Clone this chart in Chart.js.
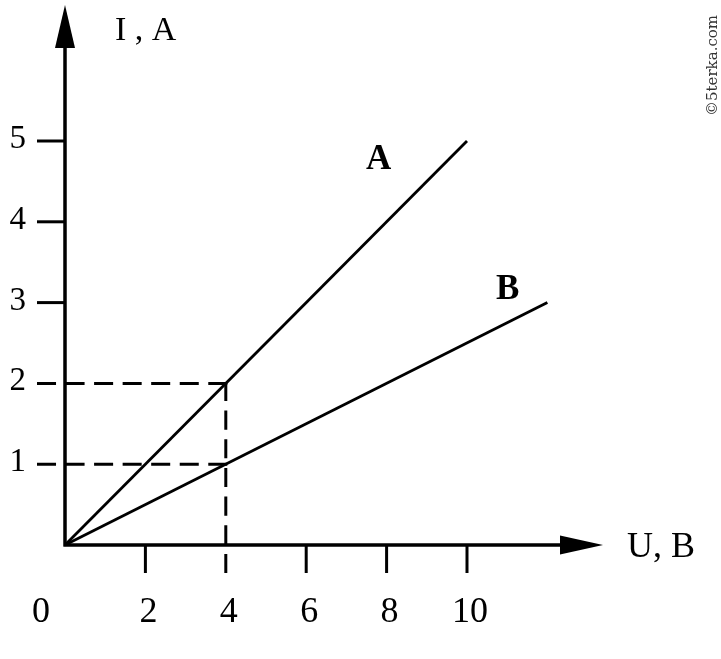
<!DOCTYPE html>
<html>
<head>
<meta charset="utf-8">
<script src="https://cdn.jsdelivr.net/npm/chart.js@4/dist/chart.umd.min.js"></script>
<style>
  html, body { margin: 0; padding: 0; background: #fff; }
  canvas { display: block; }
</style>
</head>
<body>
<canvas id="chart" width="721" height="659"></canvas>
<script>
// Line data: U (volts) vs I (amperes)
const voltageA = [0, 10];
const currentA = [0, 5];
const voltageB = [0, 12];
const currentB = [0, 3];

// Axis ticks
const xTicks = [2, 4, 6, 8, 10];
const yTicks = [1, 2, 3, 4, 5];

// Dashed guide points
const guideU = [4, 4];
const guideI = [2, 1];

// Layout (pixels)
const ORIGIN_X = 65, ORIGIN_Y = 545;
const PX_PER_U = 40.2, PX_PER_I = 80.8;
const W = 721, H = 659;
const TICK_LEN = 28;
const DASH = 18, GAP = 9;
const SERIF = '"Liberation Serif", "Times New Roman", serif';

const toPoints = (xs, ys) => xs.map((x, i) => ({ x, y: ys[i] }));

// dashed segment that starts and ends on a dash
function dashedLine(ctx, x1, y1, x2, y2) {
  const len = Math.hypot(x2 - x1, y2 - y1);
  const n = Math.max(1, Math.round((len + GAP) / (DASH + GAP)));
  const s = len / (n * DASH + (n - 1) * GAP);
  ctx.setLineDash([DASH * s, GAP * s]);
  ctx.beginPath();
  ctx.moveTo(x1, y1);
  ctx.lineTo(x2, y2);
  ctx.stroke();
  ctx.setLineDash([]);
}

const axesPlugin = {
  id: 'axesPlugin',
  afterDatasetsDraw(chart) {
    const { ctx } = chart;
    const xs = chart.scales.x, ys = chart.scales.y;
    const x0 = xs.getPixelForValue(0), y0 = ys.getPixelForValue(0);
    ctx.save();
    ctx.strokeStyle = '#000';
    ctx.fillStyle = '#000';
    ctx.lineCap = 'butt';

    // dashed guides
    ctx.lineWidth = 3;
    guideU.forEach((u, i) => {
      const px = xs.getPixelForValue(u), py = ys.getPixelForValue(guideI[i]);
      dashedLine(ctx, x0 - TICK_LEN, py, px + 1.5, py);
    });
    const gx = xs.getPixelForValue(guideU[0]);
    dashedLine(ctx, gx, ys.getPixelForValue(Math.max(...guideI)) - 1.5, gx, y0 + TICK_LEN);

    // axes
    ctx.lineWidth = 3.5;
    ctx.beginPath();
    ctx.moveTo(x0, y0 + 1.5);
    ctx.lineTo(x0, 45);
    ctx.moveTo(x0 - 1.5, y0);
    ctx.lineTo(562, y0);
    ctx.stroke();

    // arrow heads
    ctx.beginPath();
    ctx.moveTo(x0, 5);
    ctx.lineTo(x0 - 10, 48);
    ctx.lineTo(x0 + 10, 48);
    ctx.closePath();
    ctx.fill();
    ctx.beginPath();
    ctx.moveTo(603, y0);
    ctx.lineTo(560, y0 - 9.5);
    ctx.lineTo(560, y0 + 9.5);
    ctx.closePath();
    ctx.fill();

    // tick marks
    ctx.lineWidth = 3;
    yTicks.forEach(v => {
      if (guideI.includes(v)) return;
      const py = ys.getPixelForValue(v);
      ctx.beginPath();
      ctx.moveTo(x0 - TICK_LEN, py);
      ctx.lineTo(x0, py);
      ctx.stroke();
    });
    xTicks.forEach(v => {
      if (guideU.includes(v)) return;
      const px = xs.getPixelForValue(v);
      ctx.beginPath();
      ctx.moveTo(px, y0);
      ctx.lineTo(px, y0 + TICK_LEN);
      ctx.stroke();
    });

    // tick labels
    ctx.textBaseline = 'alphabetic';
    ctx.textAlign = 'right';
    ctx.font = '33px ' + SERIF;
    yTicks.forEach(v => {
      ctx.fillText(String(v), 26, ys.getPixelForValue(v) + 7);
    });
    ctx.textAlign = 'center';
    ctx.font = '36px ' + SERIF;
    ctx.fillText('0', 41, 622);
    xTicks.forEach(v => {
      ctx.fillText(String(v), xs.getPixelForValue(v) + 3, 622);
    });

    // axis titles
    ctx.textAlign = 'left';
    ctx.font = '34px ' + SERIF;
    ctx.fillText('I , A', 115, 40);
    ctx.font = '36px ' + SERIF;
    ctx.fillText('U, B', 627, 557);

    // line labels
    ctx.font = 'bold 35px ' + SERIF;
    ctx.fillText('A', 366, 169);
    ctx.fillText('B', 496, 299);

    // watermark
    ctx.translate(717, 116);
    ctx.rotate(-Math.PI / 2);
    ctx.font = '15px "DejaVu Serif", serif';
    ctx.fillStyle = '#333';
    ctx.textAlign = 'left';
    ctx.fillText('\u00a95terka.com', 0, 0);
    ctx.restore();
  }
};

new Chart(document.getElementById('chart'), {
  type: 'scatter',
  data: {
    datasets: [
      {
        label: 'A',
        data: toPoints(voltageA, currentA),
        showLine: true,
        borderColor: '#000',
        borderWidth: 2.8,
        pointRadius: 0,
      },
      {
        label: 'B',
        data: toPoints(voltageB, currentB),
        showLine: true,
        borderColor: '#000',
        borderWidth: 2.8,
        pointRadius: 0,
      },
    ]
  },
  options: {
    responsive: false,
    animation: false,
    layout: { padding: 0 },
    plugins: {
      legend: { display: false },
      tooltip: { enabled: false },
    },
    scales: {
      x: {
        type: 'linear',
        display: false,
        min: -ORIGIN_X / PX_PER_U,
        max: (W - ORIGIN_X) / PX_PER_U,
      },
      y: {
        type: 'linear',
        display: false,
        min: -(H - ORIGIN_Y) / PX_PER_I,
        max: ORIGIN_Y / PX_PER_I,
      }
    }
  },
  plugins: [axesPlugin]
});
</script>
</body>
</html>
